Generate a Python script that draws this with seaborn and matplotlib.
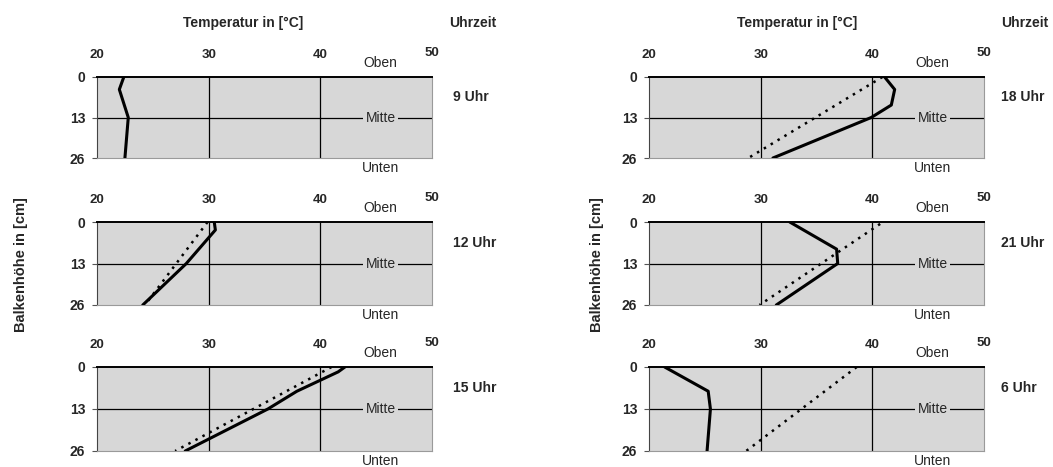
import matplotlib
matplotlib.use("Agg")
import matplotlib.pyplot as plt
import seaborn as sns
import pandas as pd

sns.set_theme(style="white")
plt.rcParams['font.family'] = ['Liberation Sans', 'DejaVu Sans']

# ---- data ----
hours = ["9 Uhr", "12 Uhr", "15 Uhr", "18 Uhr", "21 Uhr", "6 Uhr"]

depth_9 = [0, 4, 13, 26]
temp_9 = [22.4, 22.0, 22.8, 22.5]

depth_12 = [0, 2.5, 13, 26]
temp_12 = [30.5, 30.6, 28.0, 24.1]
ref_depth_12 = [0, 13, 26]
ref_12 = [29.9, 27.1, 24.3]

depth_15 = [0, 1.5, 7.5, 13, 26]
temp_15 = [42.2, 41.6, 37.9, 35.3, 27.9]
ref_depth_15 = [0, 26]
ref_15 = [41.0, 27.0]

depth_18 = [0, 4, 9, 13, 26]
temp_18 = [41.1, 42.0, 41.7, 39.9, 31.1]
ref_depth_18 = [0, 26]
ref_18 = [40.9, 28.9]

depth_21 = [0, 8.5, 13, 26]
temp_21 = [32.6, 36.8, 36.9, 31.4]
ref_depth_21 = [0.6, 26]
ref_21 = [40.7, 29.9]

depth_6 = [0, 7.5, 13, 26]
temp_6 = [21.4, 25.3, 25.5, 25.2]
ref_depth_6 = [0, 26]
ref_6 = [38.6, 28.7]

x_ticks = [20, 30, 40, 50]
y_ticks = [0, 13, 26]

panels = [
    (depth_9, temp_9, None, None),
    (depth_12, temp_12, ref_depth_12, ref_12),
    (depth_15, temp_15, ref_depth_15, ref_15),
    (depth_18, temp_18, ref_depth_18, ref_18),
    (depth_21, temp_21, ref_depth_21, ref_21),
    (depth_6, temp_6, ref_depth_6, ref_6),
]

W, H = 1053, 467
fig = plt.figure(figsize=(W / 100, H / 100), dpi=100)
fig.patch.set_facecolor("white")

bg = "#d7d7d7"
col_left = [97, 649]
row_tops = [77, 222, 367]
row_bottoms = [158, 305, 451]
ax_w = 335
hour_offset = [15, 12]

for i, (dep, tmp, rdep, rtmp) in enumerate(panels):
    c = i // 3
    r = i % 3
    x0 = col_left[c]
    top, bot = row_tops[r], row_bottoms[r]
    ax = fig.add_axes([x0 / W, 1 - bot / H, ax_w / W, (bot - top) / H])
    ax.set_facecolor(bg)
    ax.set_xlim(20, 50)
    ax.set_ylim(26, 0)
    for xv in (30, 40):
        ax.axvline(xv, color="black", lw=0.9, zorder=1)
    ax.axhline(13, color="black", lw=0.9, zorder=1)

    if rdep is not None:
        dfr = pd.DataFrame({"t": rtmp, "d": rdep})
        sns.lineplot(data=dfr, x="t", y="d", ax=ax, sort=False, estimator=None,
                     color="black", lw=1.8, linestyle=(0, (1, 2.2)), zorder=3)
    df = pd.DataFrame({"t": tmp, "d": dep})
    sns.lineplot(data=df, x="t", y="d", ax=ax, sort=False, estimator=None,
                 color="black", lw=2.2, zorder=4)

    ax.set_xlabel("")
    ax.set_ylabel("")
    ax.xaxis.tick_top()
    ax.set_xticks(x_ticks)
    ax.set_xticklabels([])
    ax.set_yticks(y_ticks)
    ax.set_yticklabels([str(v) for v in y_ticks], fontsize=10, fontweight="bold")
    ax.tick_params(axis="y", left=True, length=3.5, width=0.8, color="#555555", pad=5)
    ax.tick_params(axis="x", length=0)
    # x tick labels above
    for xv in x_ticks:
        dy = 17 if xv == 50 else 15.5
        ax.annotate(str(xv), xy=(xv, 0), xycoords="data", xytext=(0, dy),
                    textcoords="offset points", ha="center", va="center",
                    fontsize=9.5, fontweight="bold")
    ax.annotate("Oben", xy=(45.4, 0), xycoords="data", xytext=(0, 10),
                textcoords="offset points", ha="center", va="center", fontsize=10)
    ax.annotate("Unten", xy=(45.4, 26), xycoords="data", xytext=(0, -7),
                textcoords="offset points", ha="center", va="center", fontsize=10)
    ax.text(45.4, 13, "Mitte", ha="center", va="center", fontsize=10, zorder=5,
            bbox=dict(facecolor=bg, edgecolor="none", pad=1.5))
    ax.annotate(hours[i], xy=(1.0, 0.75), xycoords="axes fraction",
                xytext=(hour_offset[c], 0), textcoords="offset points", ha="left",
                va="center", fontsize=10, fontweight="bold")
    ax.spines["top"].set_color("black")
    ax.spines["top"].set_linewidth(1.4)
    ax.spines["left"].set_color("#444444")
    ax.spines["left"].set_linewidth(0.8)
    for s in ("bottom", "right"):
        ax.spines[s].set_color("#9a9a9a")
        ax.spines[s].set_linewidth(0.8)

# titles
for cx, ux in ((243 / W, 473 / W), (797 / W, 1025 / W)):
    fig.text(cx, 1 - 23 / H, "Temperatur in [°C]", ha="center", va="center",
             fontsize=10, fontweight="bold")
    fig.text(ux, 1 - 23 / H, "Uhrzeit", ha="center", va="center",
             fontsize=10, fontweight="bold")
for lx in (21 / W, 597 / W):
    fig.text(lx, 1 - 265 / H, "Balkenhöhe in [cm]", ha="center", va="center",
             rotation=90, fontsize=10.5, fontweight="bold")

fig.savefig("out.png", dpi=100)
